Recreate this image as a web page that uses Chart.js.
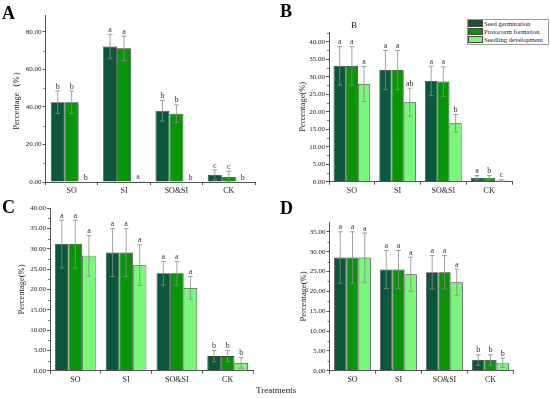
<!DOCTYPE html>
<html>
<head>
<meta charset="utf-8">
<script src="https://cdn.jsdelivr.net/npm/chart.js@4.4.0/dist/chart.umd.min.js"></script>
<style>
  body { margin: 0; background: #fff; width: 550px; height: 398px; overflow: hidden; position: relative; font-family: 'Liberation Serif', serif; }
  canvas { position: absolute; }
  .tag { position: absolute; font-weight: bold; font-size: 18px; line-height: 1; color: #000; }
  .txt { position: absolute; font-size: 9px; line-height: 1; color: #222; }
  #legend { position: absolute; left: 467px; top: 19px; width: 80px; height: 24px; border: 1px solid #999; background: #fff; overflow: hidden; }
  #legend div { height: 8px; font-size: 6.6px; line-height: 8px; white-space: nowrap; color: #222; }
  #legend span { display: inline-block; width: 15px; height: 7px; border: 0.5px solid #444; vertical-align: top; margin-right: 1px; box-sizing: border-box; }
</style>
</head>
<body>
<canvas id="cA" width="275" height="200" style="left:0;top:0"></canvas>
<canvas id="cB" width="275" height="200" style="left:275px;top:0"></canvas>
<canvas id="cC" width="275" height="198" style="left:0;top:200px"></canvas>
<canvas id="cD" width="275" height="198" style="left:275px;top:200px"></canvas>

<div class="tag" style="left:2px;top:4px">A</div>
<div class="tag" style="left:280px;top:2px">B</div>
<div class="tag" style="left:2px;top:198px">C</div>
<div class="tag" style="left:280px;top:199px">D</div>
<div class="txt" style="left:351px;top:21px">B</div>
<div class="txt" style="left:256px;top:386px">Treatments</div>
<div id="legend"></div>

<script>
const categories = ['SO', 'SI', 'SO&SI', 'CK'];
const seriesNames = ['Seed germination', 'Protocorm formation', 'Seedling development'];
const colors = ['#0c583a', '#089608', '#78f878'];

// panel A
const germA = [42.5, 72.2, 38.0, 3.7];
const protoA = [42.5, 71.3, 36.4, 2.7];
const seedlA = [0, 0.5, 0, 0];
const germErrA = [6, 6.5, 5.5, 2.7];
const protoErrA = [6, 6.5, 4.7, 3];
const seedlErrA = [0, 0, 0, 0];
const lettersA = [['b', 'a', 'b', 'c'], ['b', 'a', 'b', 'c'], ['b', 'a', 'b', 'b']];

// panel B
const germB = [33.1, 31.9, 28.8, 1.15];
const protoB = [33.1, 31.9, 28.6, 1.15];
const seedlB = [27.9, 22.7, 16.7, 0.35];
const germErrB = [5.5, 5.6, 4.2, 0.6];
const protoErrB = [5.5, 5.6, 4.2, 0.6];
const seedlErrB = [5, 4, 2.5, 0.2];
const lettersB = [['a', 'a', 'a', 'a'], ['a', 'a', 'a', 'b'], ['a', 'ab', 'b', 'c']];

// panel C
const germC = [31.2, 29.1, 24.0, 3.6];
const protoC = [31.2, 29.1, 24.0, 3.6];
const seedlC = [28.3, 26.0, 20.4, 1.9];
const germErrC = [5.9, 5.9, 2.9, 1.4];
const protoErrC = [5.9, 5.9, 2.9, 1.4];
const seedlErrC = [5, 5, 2.8, 1.3];
const lettersC = [['a', 'a', 'a', 'b'], ['a', 'a', 'a', 'b'], ['a', 'a', 'a', 'b']];

// panel D
const germD = [28.5, 25.5, 24.8, 2.7];
const protoD = [28.5, 25.5, 24.8, 2.7];
const seedlD = [28.5, 24.3, 22.3, 2.0];
const germErrD = [6.5, 4.8, 4.2, 1.3];
const protoErrD = [6.5, 4.8, 4.2, 1.3];
const seedlErrD = [6.2, 4.3, 3.3, 1.2];
const lettersD = [['a', 'a', 'a', 'b'], ['a', 'a', 'a', 'b'], ['a', 'a', 'a', 'b']];

// error bars, significance letters, minor ticks
const extras = {
  id: 'extras',
  afterDatasetsDraw(chart) {
    const ctx = chart.ctx, y = chart.scales.y;
    ctx.save();
    chart.data.datasets.forEach((ds, i) => {
      chart.getDatasetMeta(i).data.forEach((bar, j) => {
        const v = ds.data[j], e = ds.err[j];
        const top = y.getPixelForValue(v + e), bot = y.getPixelForValue(Math.max(v - e, 0));
        if (e > 0) {
          ctx.strokeStyle = '#8a8a8a';
          ctx.lineWidth = 0.8;
          ctx.beginPath();
          ctx.moveTo(bar.x, top); ctx.lineTo(bar.x, bot);
          ctx.moveTo(bar.x - 2.5, top); ctx.lineTo(bar.x + 2.5, top);
          ctx.moveTo(bar.x - 2.5, bot); ctx.lineTo(bar.x + 2.5, bot);
          ctx.stroke();
        }
        ctx.fillStyle = '#333';
        ctx.font = '8px "Liberation Serif"';
        ctx.textAlign = 'center';
        ctx.textBaseline = 'bottom';
        ctx.fillText(ds.letters[j], bar.x, top - 0.5);
      });
    });
    const step = y.options.ticks.stepSize;
    ctx.strokeStyle = '#555';
    ctx.lineWidth = 0.8;
    ctx.beginPath();
    for (let t = step / 2; t < y.max; t += step) {
      const py = Math.round(y.getPixelForValue(t)) + 0.5;
      ctx.moveTo(y.right - 2, py); ctx.lineTo(y.right, py);
    }
    ctx.stroke();
    ctx.restore();
  }
};

function panel(id, canvasPos, plot, vals, errs, letters, yMax, step, yTitle, titlePad) {
  const [cx, cy, cw, ch] = canvasPos;
  const [left, top, right, bottom] = plot;
  new Chart(document.getElementById(id), {
    type: 'bar',
    data: {
      labels: categories,
      datasets: vals.map((d, i) => ({
        label: seriesNames[i],
        data: d,
        err: errs[i],
        letters: letters[i],
        backgroundColor: colors[i],
        borderColor: '#3a3a3a',
        borderWidth: 0.8,
        categoryPercentage: 0.8,
        barPercentage: 1.0
      }))
    },
    options: {
      responsive: false,
      animation: false,
      layout: { padding: { left: 0, top: top - cy, right: cx + cw - right, bottom: 0 } },
      plugins: { legend: { display: false }, tooltip: { enabled: false } },
      scales: {
        x: {
          afterFit: s => { s.height = cy + ch - bottom; },
          grid: { drawOnChartArea: false, tickLength: 3, color: '#555' },
          border: { color: '#555', width: 1 },
          ticks: { padding: 1, color: '#222', font: { family: 'Liberation Serif', size: 8 } }
        },
        y: {
          min: 0, max: yMax,
          afterFit: s => { s.width = left - cx; },
          grid: { drawOnChartArea: false, tickLength: 3, color: '#555' },
          border: { color: '#555', width: 1 },
          ticks: {
            stepSize: step, includeBounds: false, padding: 1, color: '#222',
            font: { family: 'Liberation Serif', size: 7 },
            callback: v => Number(v).toFixed(2)
          },
          title: {
            display: true, text: yTitle, color: '#222',
            font: { family: 'Liberation Serif', size: 8.5 },
            padding: { top: titlePad, bottom: 0 }
          }
        }
      }
    },
    plugins: [extras]
  });
}

panel('cA', [0, 0, 275, 200], [45.5, 15, 255, 182],
  [germA, protoA, seedlA], [germErrA, protoErrA, seedlErrA], lettersA, 89, 20, 'Percentage（%）', 12);
panel('cB', [275, 0, 275, 200], [329, 32, 512, 181.7],
  [germB, protoB, seedlB], [germErrB, protoErrB, seedlErrB], lettersB, 42.77, 5, 'Percentage(%)', 23);
panel('cC', [0, 200, 275, 198], [50, 208.3, 253, 370.7],
  [germC, protoC, seedlC], [germErrC, protoErrC, seedlErrC], lettersC, 40, 5, 'Percentage(%)', 16.5);
panel('cD', [275, 200, 275, 198], [329.5, 222.3, 513.5, 370.7],
  [germD, protoD, seedlD], [germErrD, protoErrD, seedlErrD], lettersD, 37.4, 5, 'Percentage(%)', 24);

document.getElementById('legend').innerHTML = seriesNames
  .map((n, i) => `<div><span style="background:${colors[i]}"></span>${n}</div>`).join('');
</script>
</body>
</html>
